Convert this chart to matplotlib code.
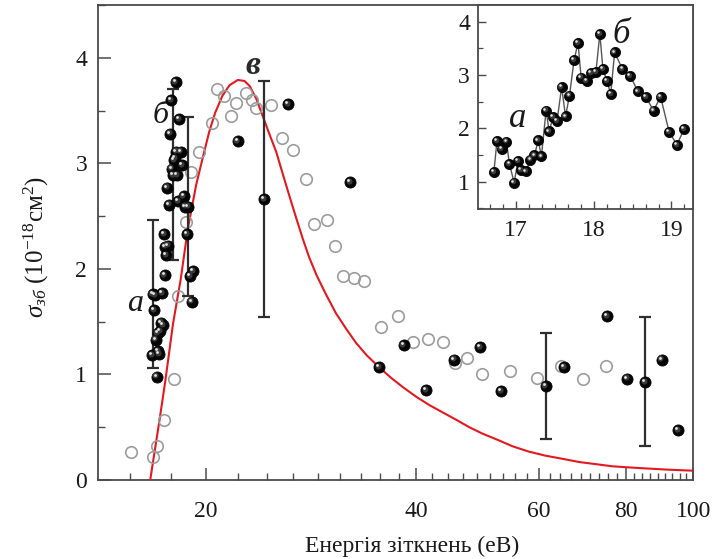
import numpy as np
import matplotlib
matplotlib.use("Agg")
import matplotlib.pyplot as plt
from matplotlib.ticker import FixedLocator, NullFormatter, MultipleLocator
from matplotlib.transforms import offset_copy

plt.rcParams['font.family'] = ['Liberation Serif', 'DejaVu Serif']
plt.rcParams['mathtext.fontset'] = 'custom'
plt.rcParams['mathtext.rm'] = 'Liberation Serif'
plt.rcParams['mathtext.it'] = 'Liberation Serif:italic'
plt.rcParams['mathtext.bf'] = 'Liberation Serif:bold'

# Measured cross-section near threshold (also shown in the inset)
fine_energy = [16.72, 16.76, 16.82, 16.88, 16.92, 16.98, 17.03, 17.07, 17.13, 17.19,
               17.24, 17.29, 17.33, 17.39, 17.43, 17.48, 17.53, 17.59, 17.64, 17.69,
               17.75, 17.80, 17.84, 17.91, 17.97, 18.03, 18.08, 18.12, 18.17, 18.22,
               18.27, 18.37, 18.47, 18.57, 18.67, 18.77, 18.86, 18.97, 19.07, 19.16]
fine_sigma = [1.18, 1.76, 1.61, 1.75, 1.33, 0.98, 1.39, 1.22, 1.19, 1.41,
              1.49, 1.77, 1.47, 2.33, 1.94, 2.21, 2.13, 2.77, 2.22, 2.61,
              3.28, 3.60, 2.95, 2.89, 3.03, 3.05, 3.77, 3.11, 2.89, 2.64,
              3.42, 3.11, 2.98, 2.69, 2.59, 2.33, 2.59, 1.93, 1.69, 1.98]

# Measured cross-section at higher collision energies
wide_energy = [22.2, 24.2, 26.2, 32.2, 35.4, 38.4, 41.4, 45.4, 49.4, 53.0,
               61.4, 65.3, 75.3, 80.3, 85.3, 90.1, 95.2]
wide_sigma = [3.21, 2.66, 3.56, 2.82, 1.07, 1.28, 0.85, 1.14, 1.26, 0.84,
              0.89, 1.07, 1.55, 0.96, 0.93, 1.14, 0.47]

# Error bars
err_energy = [16.76, 17.91, 18.86, 24.2, 61.4, 85.3]
err_sigma = [1.76, 2.89, 2.59, 2.66, 0.89, 0.93]
err_delta = [0.70, 0.81, 0.85, 1.12, 0.50, 0.61]

# Reference data (open circles)
ref_energy = [15.6, 16.8, 17.0, 17.4, 18.0, 18.2, 18.7, 19.0, 19.5, 20.4,
              20.7, 21.2, 21.7, 22.1, 22.8, 23.3, 23.6, 24.8, 25.7, 26.6,
              27.8, 28.6, 29.8, 30.6, 31.4, 32.6, 33.7, 35.6, 37.7, 39.6,
              41.6, 43.8, 45.5, 47.4, 49.7, 54.6, 59.6, 64.6, 69.5, 74.9]
ref_sigma = [0.27, 0.22, 0.32, 0.57, 0.96, 1.74, 2.44, 2.92, 3.11, 3.38,
             3.70, 3.64, 3.45, 3.57, 3.67, 3.60, 3.52, 3.55, 3.24, 3.13,
             2.85, 2.43, 2.46, 2.22, 1.93, 1.91, 1.89, 1.45, 1.55, 1.31,
             1.34, 1.31, 1.11, 1.16, 1.00, 1.03, 0.97, 1.08, 0.96, 1.08]

# Calculated curve
curve_energy = [16.62, 17.14, 17.48, 17.92, 18.38, 18.82, 19.35, 19.8, 20.2, 20.6,
                21.1, 21.6, 22.2, 22.7, 23.1, 23.6, 24.1, 24.6, 25.2, 25.7,
                26.3, 26.9, 27.5, 28.1, 28.8, 29.7, 30.7, 31.7, 32.8, 34.0,
                35.4, 36.8, 38.3, 40.0, 41.8, 43.7, 45.7, 47.7, 49.8, 52.4,
                55.0, 58.0, 61.4, 65.0, 68.6, 72.5, 76.5, 80.5, 85.3, 92.0,
                100.0]
curve_sigma = [0.0, 0.57, 0.95, 1.48, 1.90, 2.38, 2.80, 3.07, 3.30, 3.48,
               3.64, 3.74, 3.79, 3.78, 3.73, 3.61, 3.45, 3.29, 3.11, 2.92,
               2.70, 2.49, 2.29, 2.11, 1.94, 1.76, 1.58, 1.44, 1.30, 1.18,
               1.07, 0.97, 0.88, 0.79, 0.71, 0.64, 0.57, 0.50, 0.44, 0.38,
               0.32, 0.27, 0.23, 0.20, 0.17, 0.15, 0.13, 0.12, 0.11, 0.098,
               0.088]

x_major = [20, 40, 60, 80, 100]
x_major_labels = ['20', '40', '60', '80', '100']

SPINE = '#4a4a4a'
TEXT = '#1a1a1a'


def spheres(ax, fig, x, y, ms, z=5):
    ax.plot(x, y, 'o', ms=ms, mfc='#050505', mec='#050505', mew=0.6,
            ls='none', zorder=z)
    t1 = offset_copy(ax.transData, fig=fig, x=-ms * 0.12, y=ms * 0.12, units='points')
    ax.plot(x, y, 'o', ms=ms * 0.55, mfc='#3a3a3a', mec='none', ls='none',
            transform=t1, zorder=z + 0.1)
    t2 = offset_copy(ax.transData, fig=fig, x=-ms * 0.18, y=ms * 0.18, units='points')
    ax.plot(x, y, 'o', ms=ms * 0.25, mfc='#e6e6e6', mec='none', ls='none',
            transform=t2, zorder=z + 0.2)


def style_spines(ax):
    for s in ax.spines.values():
        s.set_color(SPINE)
        s.set_linewidth(1.3)


fig = plt.figure(figsize=(7.26, 5.59), dpi=100)
ax = fig.add_axes([98.3 / 726, 1 - 480 / 559, 595 / 726, 475 / 559])
ax.set_xscale('log')
ax.set_xlim(14, 100)
ax.set_ylim(0, 4.5)

ax.plot(curve_energy, curve_sigma, color='#e3191f', lw=1.5, zorder=3,
        solid_joinstyle='round')
ax.plot(ref_energy, ref_sigma, 'o', ms=8.3, mfc='none', mec='#9c9c9c', mew=1.2,
        ls='none', zorder=4)
ax.errorbar(err_energy, err_sigma, yerr=err_delta, fmt='none', ecolor='#2e2e2e',
            elinewidth=1.6, capsize=4.5, capthick=1.6, zorder=4.5)
spheres(ax, fig, fine_energy, fine_sigma, 8.0)
spheres(ax, fig, wide_energy, wide_sigma, 8.0)

ax.text(15.8, 1.67, 'а', fontsize=23, style='italic', ha='center', va='center', color=TEXT)
ax.text(17.2, 3.45, 'б', fontsize=23, style='italic', ha='center', va='center', color=TEXT)
ax.text(23.3, 3.93, 'в', fontsize=24, style='italic', weight='bold', ha='center',
        va='center', color='#2a2a2a')

ax.xaxis.set_major_locator(FixedLocator(x_major))
ax.set_xticklabels(x_major_labels)
minor = []
for a, b in zip([0] + x_major[:-1], x_major):
    if a == 0:
        step = (x_major[1] - x_major[0]) / 9
        minor += list(np.arange(b - step, 13.9, -step))
    else:
        step = (b - a) / 9
        minor += list(a + step * np.arange(1, 9))
ax.xaxis.set_minor_locator(FixedLocator(minor))
ax.xaxis.set_minor_formatter(NullFormatter())
ax.yaxis.set_major_locator(MultipleLocator(1))
ax.yaxis.set_minor_locator(MultipleLocator(0.5))

ax.tick_params(which='both', direction='in', top=False, right=False, colors=SPINE,
               labelcolor=TEXT, labelsize=17)
ax.tick_params(which='major', length=9, width=1.1)
ax.tick_params(which='minor', length=5, width=1.0)
ax.tick_params(axis='x', which='major', pad=15)
ax.tick_params(axis='y', which='major', pad=8)
style_spines(ax)

ax.set_xlabel('Енергія зіткнень (еВ)', fontsize=17, color=TEXT)
ax.xaxis.set_label_coords(0.527, -0.118)
ax.set_ylabel(r'$\sigma_{\mathit{зб}}\ (10^{-18}\mathrm{см}^{2})$', fontsize=18, color=TEXT)
ax.yaxis.set_label_coords(-0.08, 0.49)

# Inset: threshold region
ins = fig.add_axes([478.3 / 726, 1 - 209.3 / 559, (693.3 - 478.3) / 726, (209.3 - 5) / 559])
ins.set_xlim(16.52, 19.28)
ins.set_ylim(0.48, 4.31)
ins.plot(fine_energy, fine_sigma, '-', color='#555555', lw=1.0, zorder=3)
spheres(ins, fig, fine_energy, fine_sigma, 7.3)
ins.text(17.03, 2.19, 'а', fontsize=25, style='italic', ha='center', va='center', color=TEXT)
ins.text(18.36, 3.75, 'б', fontsize=25, style='italic', ha='center', va='center', color=TEXT)
ins.xaxis.set_major_locator(MultipleLocator(1))
ins.xaxis.set_minor_locator(MultipleLocator(1 / 6))
ins.yaxis.set_major_locator(MultipleLocator(1))
ins.yaxis.set_minor_locator(MultipleLocator(0.5))
ins.tick_params(which='both', direction='in', top=False, right=False, colors=SPINE,
                labelcolor=TEXT, labelsize=17)
ins.tick_params(which='major', length=6, width=1.0)
ins.tick_params(which='minor', length=3.5, width=0.9)
ins.tick_params(axis='x', which='major', pad=8)
ins.tick_params(axis='y', which='major', pad=6)
style_spines(ins)

fig.savefig('out.png', dpi=100)
